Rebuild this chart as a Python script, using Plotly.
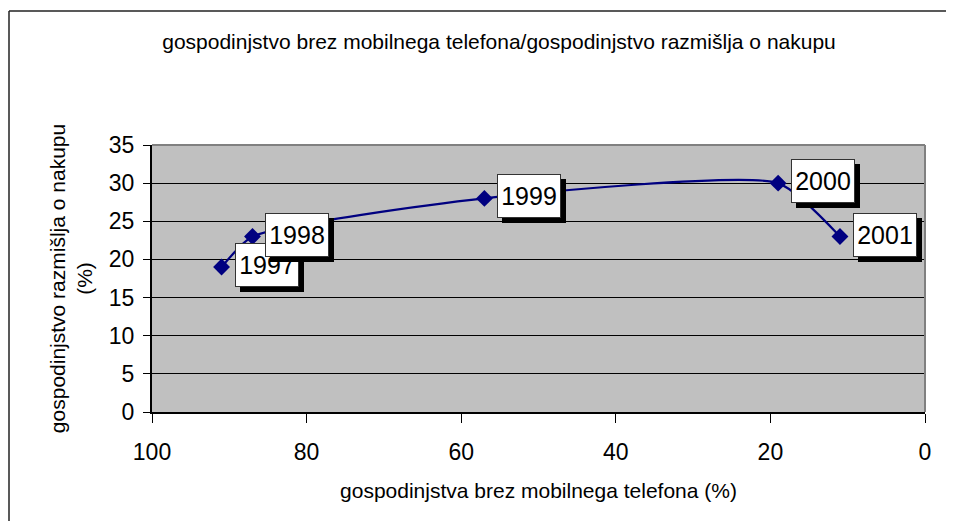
import plotly.graph_objects as go

# data
years = ["1997", "1998", "1999", "2000", "2001"]
no_mobile = [91, 87, 57, 19, 11]          # gospodinjstva brez mobilnega telefona (%)
consider_buy = [19, 23, 28, 30, 23]       # gospodinjstvo razmišlja o nakupu (%)
x_ticks = [100, 80, 60, 40, 20, 0]
y_ticks = [0, 5, 10, 15, 20, 25, 30, 35]

FONT = "Liberation Sans, Arial, sans-serif"

# figure is placed with the page's 8px body margin, so size/margins account for it
W, H = 938, 513
ML, MR, MT, MB = 144, 21, 137, 109
PW, PH = W - ML - MR, H - MT - MB

fig = go.Figure()
fig.add_trace(go.Scatter(
    x=no_mobile, y=consider_buy, mode="lines+markers",
    line=dict(color="#000080", width=2.2, shape="spline", smoothing=0.55),
    marker=dict(symbol="diamond", size=13, color="#000080"),
    hoverinfo="skip", showlegend=False,
))

annotations = []
for xv, yv, t in zip(no_mobile, consider_buy, years):
    # shadow
    annotations.append(dict(
        x=xv, y=yv, xref="x", yref="y", text=t, showarrow=False,
        font=dict(family=FONT, size=25, color="black"),
        bgcolor="black", bordercolor="black", borderwidth=1, borderpad=2,
        width=58, height=38, xshift=50, yshift=-3,
    ))
    annotations.append(dict(
        x=xv, y=yv, xref="x", yref="y", text=t, showarrow=False,
        font=dict(family=FONT, size=25, color="black"),
        bgcolor="white", bordercolor="#333333", borderwidth=1, borderpad=2,
        width=58, height=38, xshift=45, yshift=2,
    ))

fig.update_layout(
    width=W, height=H,
    margin=dict(l=ML, r=MR, t=MT, b=MB),
    paper_bgcolor="white", plot_bgcolor="#C0C0C0",
    font=dict(family=FONT, color="black"),
    title=dict(
        text="gospodinjstvo brez mobilnega telefona/gospodinjstvo razmišlja o nakupu",
        x=491 / W, y=1 - 34 / H, xref="container",
        yref="container", xanchor="center", yanchor="middle",
        font=dict(family=FONT, size=21, color="black"),
    ),
    xaxis=dict(
        range=[100, 0], tickvals=x_ticks, ticks="outside", ticklen=9,
        tickcolor="black", tickwidth=1, showgrid=False, zeroline=False,
        showline=True, linecolor="black", linewidth=2, ticklabelstandoff=9,
        tickfont=dict(family=FONT, size=23, color="black"),
        title=dict(text="gospodinjstva brez mobilnega telefona (%)", standoff=20,
                   font=dict(family=FONT, size=21, color="black")),
    ),
    yaxis=dict(
        range=[0, 35], tickvals=y_ticks, ticks="outside", ticklen=7,
        tickcolor="black", tickwidth=1, showgrid=True, gridcolor="black",
        gridwidth=1, zeroline=False, showline=True, linecolor="black", linewidth=2,
        ticklabelstandoff=4,
        tickfont=dict(family=FONT, size=23, color="black"),
        title=dict(text="gospodinjstvo razmišlja o nakupu<br>(%)", standoff=10,
                   font=dict(family=FONT, size=21, color="black")),
    ),
    annotations=annotations,
    shapes=[
        # plot-area top & right border (grey)
        dict(type="line", xref="paper", yref="paper", x0=0, x1=1, y0=1, y1=1,
             line=dict(color="#808080", width=2), layer="above"),
        dict(type="line", xref="paper", yref="paper", x0=1, x1=1, y0=0, y1=1,
             line=dict(color="#808080", width=2), layer="above"),
        # outer chart frame (left & top edges visible)
        dict(type="line", xref="paper", yref="paper",
             x0=(1 - ML) / PW, x1=(1 - ML) / PW,
             y0=(MT + PH - 3) / PH, y1=(MT + PH - H - 20) / PH,
             line=dict(color="#222222", width=1.5)),
        dict(type="line", xref="paper", yref="paper",
             x0=(1 - ML) / PW, x1=(W + 20 - ML) / PW,
             y0=(MT + PH - 3) / PH, y1=(MT + PH - 3) / PH,
             line=dict(color="#222222", width=1.5)),
    ],
)

fig.write_html("out.html")
